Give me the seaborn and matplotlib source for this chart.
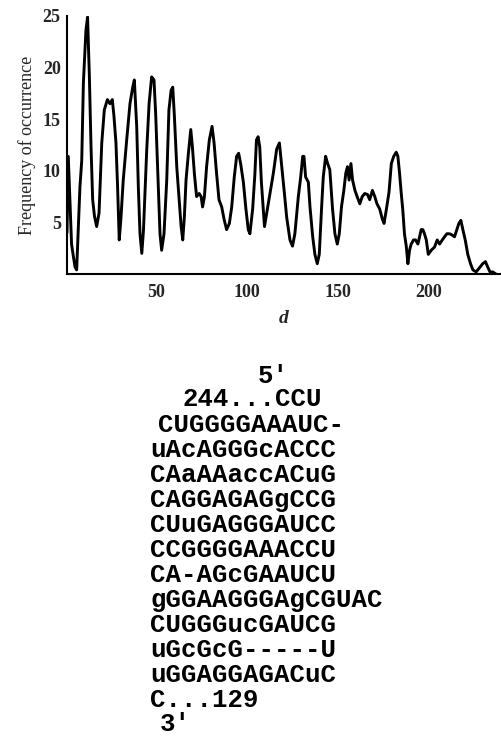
import matplotlib
matplotlib.use("Agg")
import matplotlib.pyplot as plt
import seaborn as sns
import pandas as pd

# ---- data ----
d_vals = [1.1, 1.8, 2.7, 3.6, 4.6, 5.5, 6.4, 7.3, 8.2, 9.2, 10.1, 11.5, 12.4, 13.4, 14.3,
          15.2, 16.2, 17.4, 18.7, 20.2, 21.6, 23.3, 24.7, 26.0, 26.9, 28.0, 28.9, 29.8,
          30.7, 32.0, 33.9, 35.7, 37.2, 38.1, 39.4, 40.3, 41.2, 42.2, 43.1, 44.9, 46.2,
          47.6, 48.9, 49.8, 51.3, 52.2, 53.1, 54.4, 55.9, 57.1, 58.3, 59.2, 60.1, 61.4,
          62.7, 63.8, 64.7, 65.6, 66.5, 67.8, 69.1, 70.0, 71.1, 72.3, 73.7, 74.8, 75.6,
          76.6, 77.8, 79.3, 80.8, 81.9, 83.3, 84.6, 86.1, 87.4, 88.8, 90.3, 91.6, 93.0,
          94.3, 95.4, 96.5, 98.0, 99.4, 100.7, 101.6, 103.1, 104.3, 105.2, 106.1, 107.0,
          107.9, 109.6, 111.2, 112.7, 114.5, 116.3, 117.8, 119.1, 120.5, 121.8, 123.6,
          125.0, 126.3, 128.2, 129.5, 130.6, 131.3, 132.2, 133.7, 134.6, 136.1, 137.3,
          138.6, 139.7, 141.0, 141.9, 143.2, 144.3, 145.5, 147.0, 148.3, 149.6, 150.7,
          151.9, 153.2, 154.3, 155.2, 156.1, 157.1, 158.0, 159.3, 160.5, 162.0, 163.3,
          164.7, 166.2, 167.4, 168.9, 170.2, 171.4, 172.9, 174.4, 175.3, 176.6, 178.0,
          179.3, 180.6, 182.0, 182.9, 183.8, 184.7, 185.6, 186.5, 187.5, 188.4, 189.3,
          190.2, 191.5, 192.6, 193.9, 194.8, 195.7, 196.6, 197.5, 198.5, 199.6, 201.2,
          203.0, 204.5, 205.8, 207.3, 208.5, 209.8, 211.3, 212.5, 214.0, 215.3, 216.4,
          217.5, 218.6, 219.9, 221.3, 222.8, 224.1, 225.9, 226.8, 228.1, 229.5, 231.0,
          232.2, 233.5, 235.0, 236.8]
freq_vals = [4.0, 11.4, 7.2, 2.9, 1.7, 0.7, 0.4, 4.3, 8.4, 11.0, 18.5, 23.6, 24.9, 19.1, 12.3,
             7.2, 5.6, 4.6, 5.9, 12.7, 15.9, 16.9, 16.5, 16.9, 15.3, 12.7, 8.4, 3.3,
             5.3, 9.1, 13.0, 16.5, 18.1, 18.8, 14.3, 8.4, 3.9, 2.0, 4.2, 12.0, 16.5,
             19.1, 18.8, 15.6, 8.4, 3.9, 2.3, 3.9, 9.1, 15.9, 17.8, 18.1, 15.3, 10.4,
             7.2, 4.6, 3.3, 5.6, 9.1, 11.7, 14.0, 12.3, 9.7, 7.5, 7.8, 7.5, 6.5,
             7.5, 10.4, 13.0, 14.3, 12.7, 9.7, 7.2, 6.5, 5.3, 4.3, 4.9, 6.5, 9.4,
             11.4, 11.7, 10.7, 8.9, 6.3, 4.3, 3.9, 6.3, 9.6, 13.0, 13.3, 12.3,
             8.9, 4.6, 6.3, 7.9, 9.8, 12.1, 12.7, 10.4, 7.9, 5.5, 3.3,
             2.7, 3.9, 7.5, 9.4, 11.4, 11.4, 9.4, 8.9, 6.5, 3.6, 1.9,
             1.0, 1.9, 6.5, 9.4, 11.4, 10.7, 10.1, 6.3, 3.9, 2.9, 3.9,
             6.5, 8.1, 9.8, 10.4, 9.1, 10.7, 9.1, 8.1, 7.5, 6.8, 7.5,
             7.8, 7.7, 7.2, 8.1, 7.5, 6.8, 6.3, 5.3, 4.9, 6.3, 7.9,
             10.7, 11.4, 11.8, 11.4, 9.8, 7.9, 6.2, 3.9, 2.7, 1.0, 2.3,
             2.9, 3.3, 3.3, 2.9, 3.6, 4.3, 4.3, 3.9, 3.3, 1.9, 2.3,
             2.6, 3.3, 2.9, 3.3, 3.6, 3.9, 3.9, 3.8, 3.6, 4.3, 4.9,
             5.2, 4.3, 3.3, 1.9, 1.0, 0.4, 0.2, 0.4, 0.7, 1.0, 1.2,
             0.7, 0.2, 0.2, 0.0]
x_ticks = [50, 100, 150, 200]
y_ticks = [5, 10, 15, 20, 25]
x_label = "d"
y_label = "Frequency of occurrence"
seq_lines = ["5'", "244...CCU", "CUGGGGAAAUC-", "uAcAGGGcACCC", "CAaAAaccACuG",
             "CAGGAGAGgCCG", "CUuGAGGGAUCC", "CCGGGGAAACCU", "CA-AGcGAAUCU",
             "gGGAAGGGAgCGUAC", "CUGGGucGAUCG", "uGcGcG-----U", "uGGAGGAGACuC",
             "C...129", "3'"]

# ---- layout (pixels) ----
W, H = 502, 741
seq_x_px = [258, 183, 158, 150, 150, 150, 150, 150, 150, 150, 150, 150, 150, 150, 160]
seq_y_px = [376, 399, 425, 450, 475, 500, 525, 550, 575, 600, 625, 650, 675, 700, 724]

sns.set_theme(style="white")
plt.rcParams["font.family"] = ["Liberation Serif", "DejaVu Serif"]

df = pd.DataFrame({"d": d_vals, "freq": freq_vals})

fig = plt.figure(figsize=(W / 100, H / 100), dpi=100)
ax = fig.add_axes([67 / W, 1 - 274 / H, (500 - 67) / W, (274 - 16) / H])
sns.lineplot(data=df, x="d", y="freq", ax=ax, color="black", linewidth=2.1,
             sort=False, estimator=None)

ax.set_xlim(1.1, 239)
ax.set_ylim(0, 25)
ax.set_xticks(x_ticks)
ax.set_yticks(y_ticks)
ax.set_xticklabels([str(t) for t in x_ticks], fontsize=13, fontweight="bold")
ax.set_yticklabels([str(t) for t in y_ticks], fontsize=13, fontweight="bold")
ax.tick_params(axis="x", direction="out", length=4, width=1.2, color="black", pad=3)
ax.tick_params(axis="y", direction="inout", length=5, width=1.2, color="black", pad=2)
for s in ["top", "right"]:
    ax.spines[s].set_visible(False)
for s in ["left", "bottom"]:
    ax.spines[s].set_color("black")
    ax.spines[s].set_linewidth(1.5)
ax.set_xlabel(x_label, fontsize=14, fontstyle="italic", fontweight="bold", labelpad=7)
ax.set_ylabel(y_label, fontsize=13, labelpad=5)

for txt, xp, yp in zip(seq_lines, seq_x_px, seq_y_px):
    fig.text(xp / W, 1 - (yp + 7) / H, txt, ha="left", va="baseline",
             fontsize=18.5, fontweight="bold", family=["Liberation Mono", "DejaVu Sans Mono"],
             color="black")

fig.savefig("out.png", dpi=100)
